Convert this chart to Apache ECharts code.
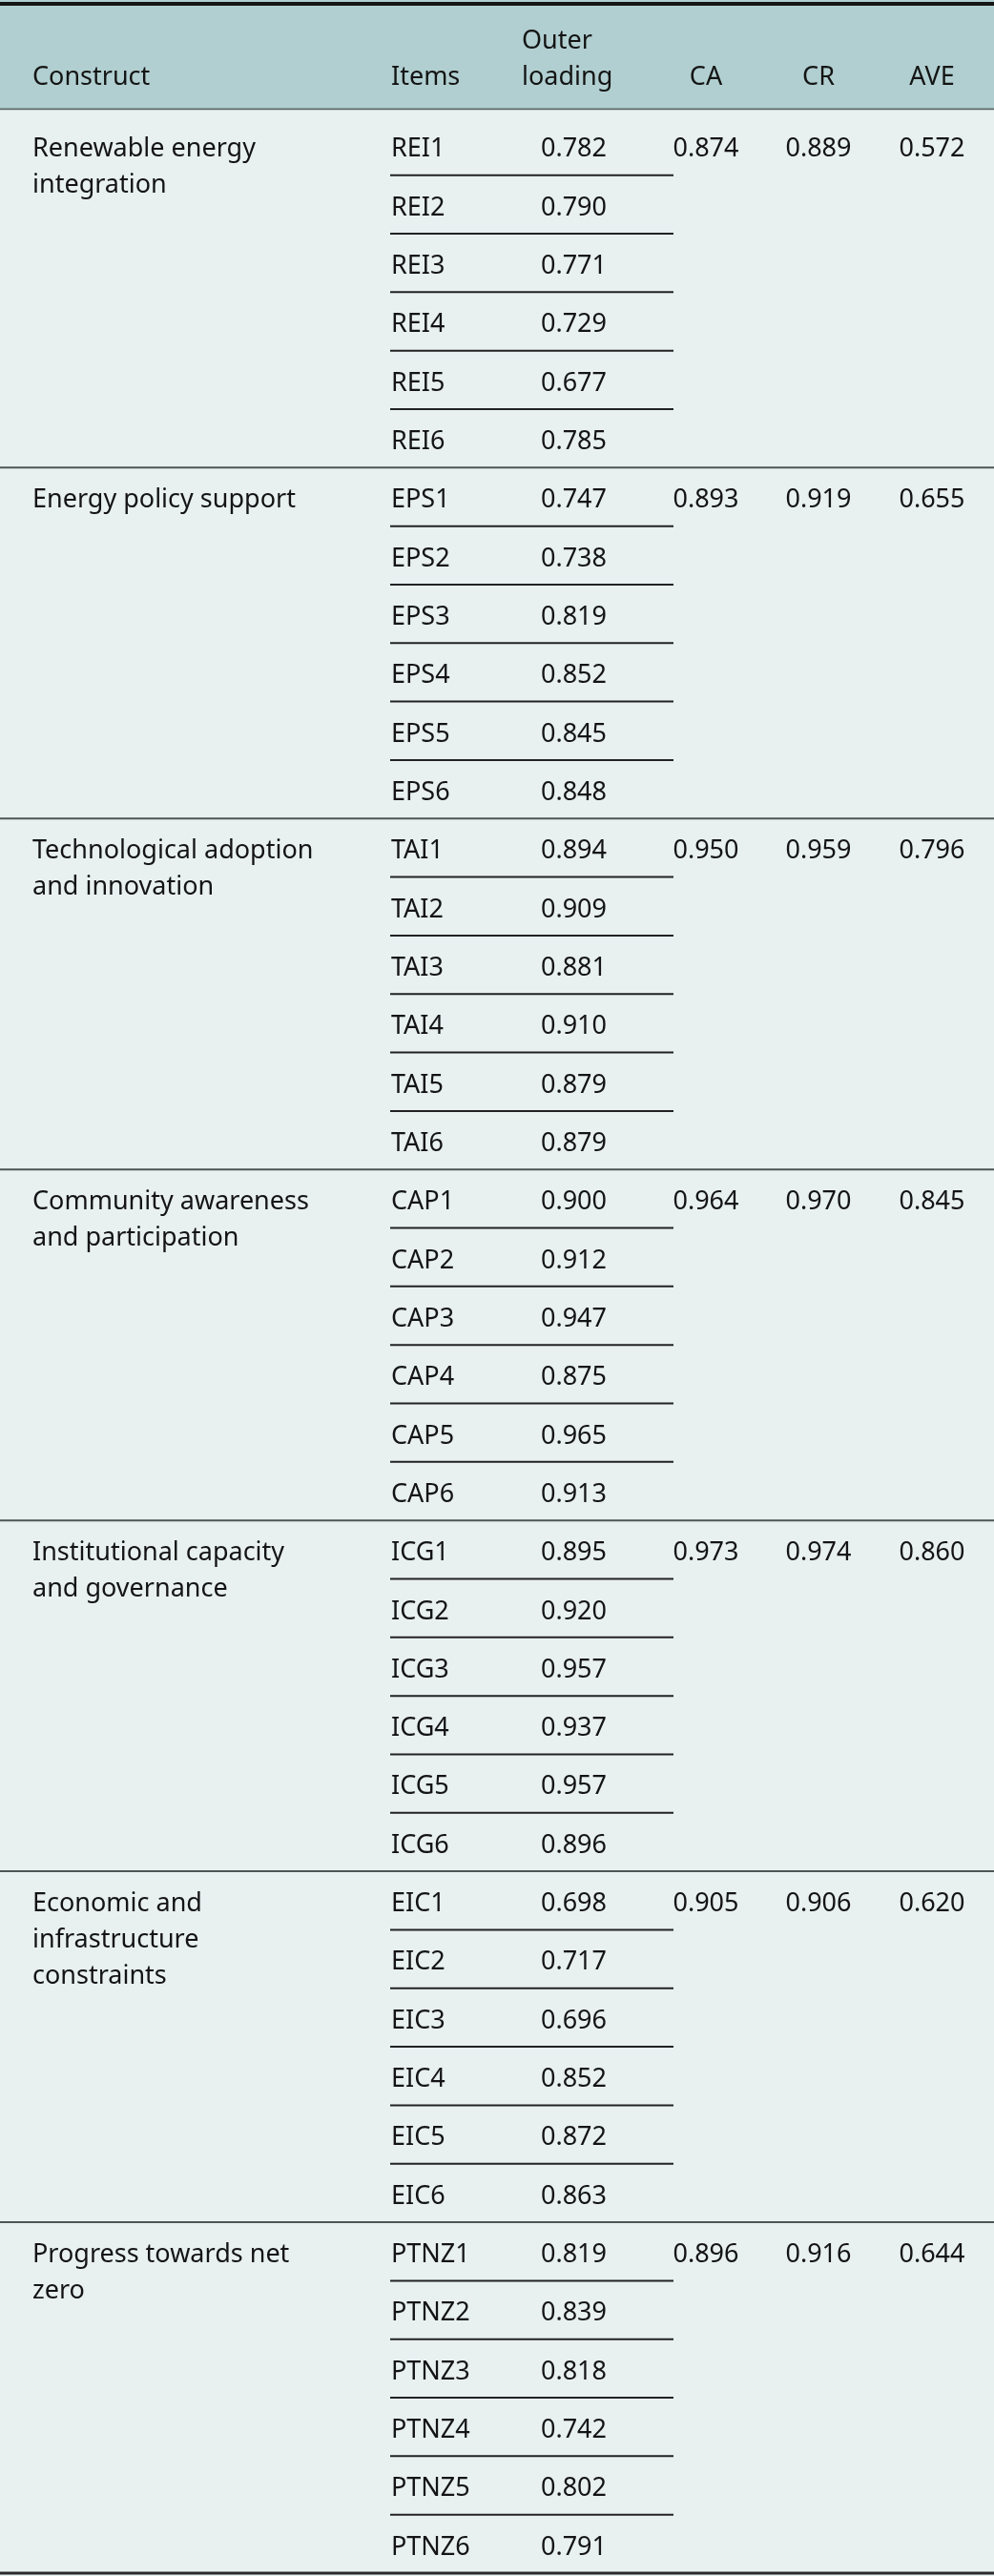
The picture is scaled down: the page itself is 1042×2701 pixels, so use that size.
<!DOCTYPE html>
<html>
<head>
<meta charset="utf-8">
<script src="https://cdn.jsdelivr.net/npm/echarts@6/dist/echarts.min.js"></script>
<style>
html,body{margin:0;padding:0;background:#e8f0f0;}
#chart{width:1042px;height:2701px;}
</style>
</head>
<body>
<div id="chart"></div>
<script>
// ---------- data ----------
const headers = ['Construct', 'Items', 'Outer\nloading', 'CA', 'CR', 'AVE'];

const constructs = [
  'Renewable energy\nintegration',
  'Energy policy support',
  'Technological adoption\nand innovation',
  'Community awareness\nand participation',
  'Institutional capacity\nand governance',
  'Economic and\ninfrastructure\nconstraints',
  'Progress towards net\nzero'
];

const items = [
  'REI1', 'REI2', 'REI3', 'REI4', 'REI5', 'REI6',
  'EPS1', 'EPS2', 'EPS3', 'EPS4', 'EPS5', 'EPS6',
  'TAI1', 'TAI2', 'TAI3', 'TAI4', 'TAI5', 'TAI6',
  'CAP1', 'CAP2', 'CAP3', 'CAP4', 'CAP5', 'CAP6',
  'ICG1', 'ICG2', 'ICG3', 'ICG4', 'ICG5', 'ICG6',
  'EIC1', 'EIC2', 'EIC3', 'EIC4', 'EIC5', 'EIC6',
  'PTNZ1', 'PTNZ2', 'PTNZ3', 'PTNZ4', 'PTNZ5', 'PTNZ6'
];

const outerLoading = [
  0.782, 0.790, 0.771, 0.729, 0.677, 0.785,
  0.747, 0.738, 0.819, 0.852, 0.845, 0.848,
  0.894, 0.909, 0.881, 0.910, 0.879, 0.879,
  0.900, 0.912, 0.947, 0.875, 0.965, 0.913,
  0.895, 0.920, 0.957, 0.937, 0.957, 0.896,
  0.698, 0.717, 0.696, 0.852, 0.872, 0.863,
  0.819, 0.839, 0.818, 0.742, 0.802, 0.791
];

const caValues  = [0.874, 0.893, 0.950, 0.964, 0.973, 0.905, 0.896];
const crValues  = [0.889, 0.919, 0.959, 0.970, 0.974, 0.906, 0.916];
const aveValues = [0.572, 0.655, 0.796, 0.845, 0.860, 0.620, 0.644];

// ---------- layout / style (not data) ----------
const W = 1042;
const HEADER_BOTTOM = 115;
const FONT = '27px "Noto Sans", "Open Sans", sans-serif';
const TEXT_COLOR = '#141414';
const LINE_H = 38;
const TEXT_FRAC = 0.56;
const COL = { construct: 34, item: 410, loadingHead: 547, loading: 567, ca: 740, cr: 858, ave: 977, sepL: 409, sepR: 706 };
const perGroup = items.length / constructs.length;

const chart = echarts.init(document.getElementById('chart'), null, { renderer: 'canvas' });

const rowData = items.map((_, i) => [i]);
const groupData = constructs.map((_, g) => [g * perGroup]);
const boundaryData = [];
for (let b = 1; b <= items.length; b++) boundaryData.push([b]);

function txt(text, x, y, align, vAlign) {
  return {
    type: 'text',
    style: { text: text, x: x, y: y, font: FONT, fill: TEXT_COLOR, align: align, verticalAlign: vAlign, lineHeight: LINE_H }
  };
}

const option = {
  backgroundColor: '#e8f0f0',
  animation: false,
  grid: { left: 0, right: 0, top: HEADER_BOTTOM, bottom: 3 },
  xAxis: { type: 'value', min: 0, max: W, show: false },
  yAxis: { type: 'value', min: -0.12, max: items.length, inverse: true, show: false },
  graphic: [
    { type: 'rect', shape: { x: 0, y: 0, width: W, height: HEADER_BOTTOM }, style: { fill: '#b1cfd0' }, z: 0 },
    { type: 'rect', shape: { x: 0, y: 2, width: W, height: 4 }, style: { fill: '#161616' }, z: 1 },
    { type: 'rect', shape: { x: 0, y: HEADER_BOTTOM - 1.5, width: W, height: 1.8 }, style: { fill: '#5f6a6a' }, z: 1 },
    Object.assign(txt(headers[0], COL.construct, 81, 'left', 'middle'), { z: 2 }),
    Object.assign(txt(headers[1], COL.item, 81, 'left', 'middle'), { z: 2 }),
    Object.assign(txt(headers[2], COL.loadingHead, 81 + LINE_H / 2, 'left', 'bottom'), { z: 2 }),
    Object.assign(txt(headers[3], COL.ca, 81, 'center', 'middle'), { z: 2 }),
    Object.assign(txt(headers[4], COL.cr, 81, 'center', 'middle'), { z: 2 }),
    Object.assign(txt(headers[5], COL.ave, 81, 'center', 'middle'), { z: 2 })
  ],
  series: [
    {
      name: 'rules',
      type: 'custom',
      data: boundaryData,
      z: 1,
      renderItem: function (params, api) {
        const b = api.value(0);
        const y = api.coord([0, b])[1];
        if (b === items.length) {
          return { type: 'rect', shape: { x: 0, y: y - 1.5, width: W, height: 3 }, style: { fill: '#2a2a2a' } };
        }
        if (b % perGroup === 0) {
          return { type: 'rect', shape: { x: 0, y: y - 1, width: W, height: 2 }, style: { fill: '#4d5555' } };
        }
        const x0 = api.coord([COL.sepL, 0])[0];
        const x1 = api.coord([COL.sepR, 0])[0];
        return { type: 'rect', shape: { x: x0, y: y - 1, width: x1 - x0, height: 2 }, style: { fill: '#222' } };
      }
    },
    {
      name: 'items',
      type: 'custom',
      data: rowData,
      z: 2,
      renderItem: function (params, api) {
        const i = params.dataIndex;
        const r = api.value(0);
        const y = api.coord([0, r + TEXT_FRAC])[1];
        return {
          type: 'group',
          children: [
            txt(items[i], api.coord([COL.item, 0])[0], y, 'left', 'middle'),
            txt(outerLoading[i].toFixed(3), api.coord([COL.loading, 0])[0], y, 'left', 'middle')
          ]
        };
      }
    },
    {
      name: 'constructs',
      type: 'custom',
      data: groupData,
      z: 2,
      renderItem: function (params, api) {
        const g = params.dataIndex;
        const r = api.value(0);
        const y = api.coord([0, r + TEXT_FRAC])[1];
        return {
          type: 'group',
          children: [
            txt(constructs[g], api.coord([COL.construct, 0])[0], y - LINE_H / 2, 'left', 'top'),
            txt(caValues[g].toFixed(3), api.coord([COL.ca, 0])[0], y, 'center', 'middle'),
            txt(crValues[g].toFixed(3), api.coord([COL.cr, 0])[0], y, 'center', 'middle'),
            txt(aveValues[g].toFixed(3), api.coord([COL.ave, 0])[0], y, 'center', 'middle')
          ]
        };
      }
    }
  ]
};

chart.setOption(option);
</script>
</body>
</html>
